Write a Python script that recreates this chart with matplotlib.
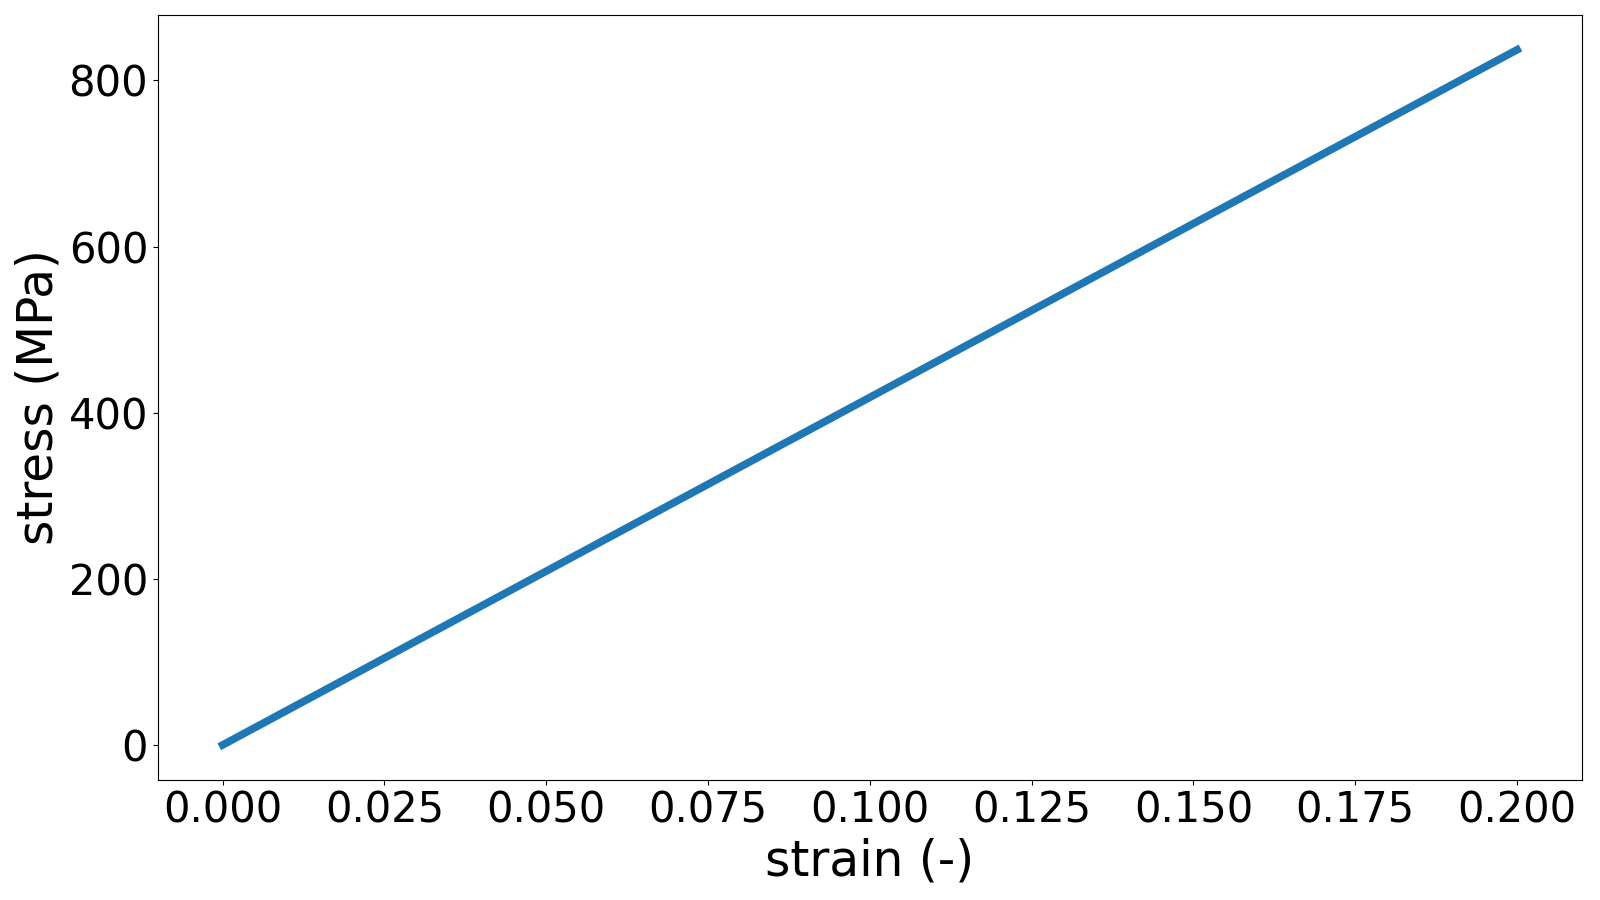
import numpy as np
import matplotlib
matplotlib.use("Agg")
import matplotlib.pyplot as plt

## data
strain = [0.0, 0.2]
stress = [0.0, 837.0]

fig, ax = plt.subplots(figsize=(16, 9), dpi=100)
ax.plot(strain, stress, color="#1f77b4", linewidth=5.5)

ax.set_xlabel("strain (-)", fontsize=35)
ax.set_ylabel("stress (MPa)", fontsize=35)
ax.tick_params(axis="both", labelsize=30)
ax.set_xticks([0.0, 0.025, 0.05, 0.075, 0.1, 0.125, 0.15, 0.175, 0.2])
ax.set_xticklabels(["0.000", "0.025", "0.050", "0.075", "0.100", "0.125", "0.150", "0.175", "0.200"])

plt.tight_layout()
plt.savefig("out.png", dpi=100)
